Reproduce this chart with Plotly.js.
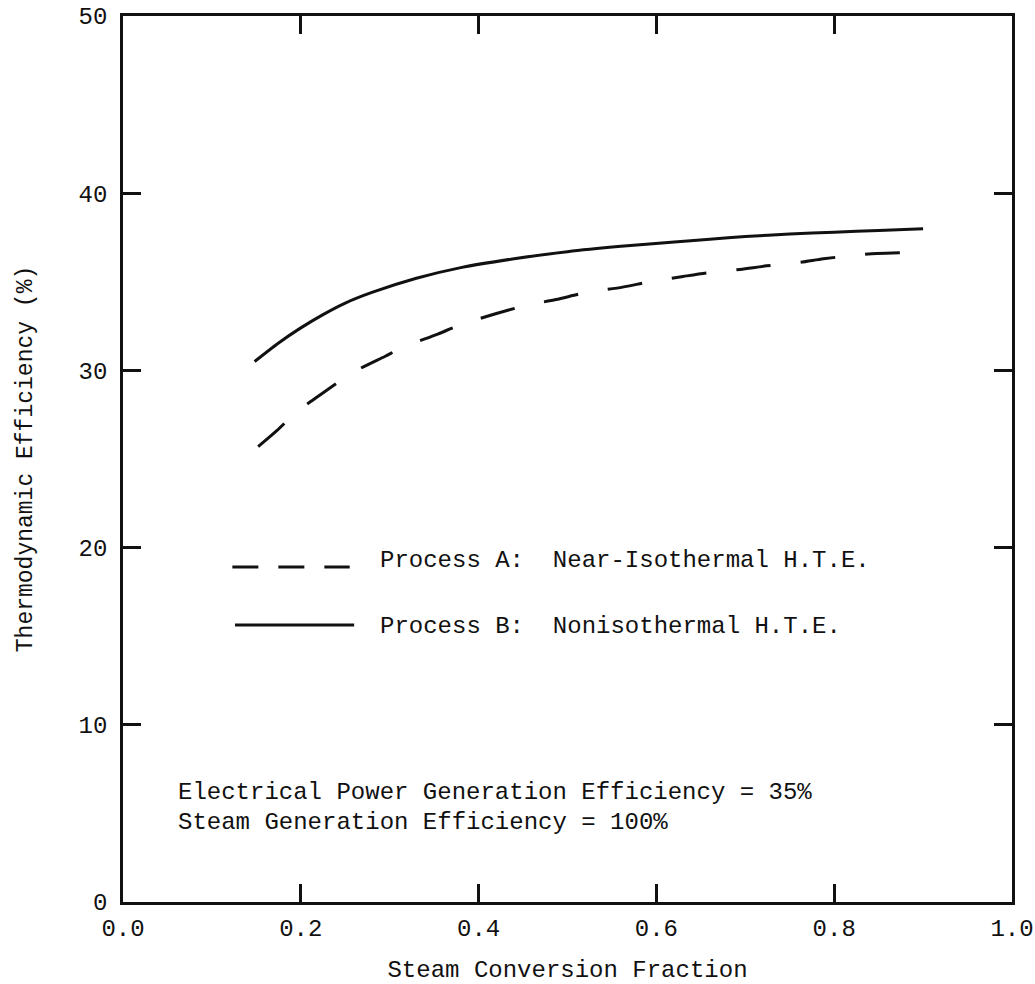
<!DOCTYPE html>
<html>
<head>
<meta charset="utf-8">
<script src="https://cdn.plot.ly/plotly-3.0.1.min.js"></script>
<style>
  html, body { margin: 0; padding: 0; background: #fff; }
  #chart { width: 1035px; height: 984px; }
</style>
</head>
<body>
<div id="chart"></div>
<script>
// Steam conversion fraction vs. thermodynamic efficiency (%)
const processA_x = [0.152, 0.173, 0.196, 0.21, 0.241, 0.259, 0.295, 0.315, 0.354, 0.381,
                    0.448, 0.487, 0.522, 0.562, 0.592, 0.63, 0.657, 0.694, 0.724, 0.762,
                    0.788, 0.824, 0.848, 0.882];
const processA_y = [25.7, 26.6, 27.7, 28.2, 29.3, 29.9, 30.8, 31.3, 32.05, 32.6,
                    33.6, 34.0, 34.4, 34.7, 35.0, 35.3, 35.5, 35.7, 35.9, 36.1,
                    36.3, 36.5, 36.6, 36.65];

const processB_x = [0.148, 0.175, 0.2, 0.225, 0.25, 0.28, 0.33, 0.38, 0.44, 0.5, 0.56,
                    0.62, 0.66, 0.7, 0.75, 0.8, 0.85, 0.9];
const processB_y = [30.5, 31.55, 32.4, 33.15, 33.8, 34.4, 35.2, 35.8, 36.3, 36.7, 37.0,
                    37.25, 37.4, 37.55, 37.7, 37.8, 37.9, 38.0];

const xTicks = [0.0, 0.2, 0.4, 0.6, 0.8, 1.0];
const xTickText = ["0.0", "0.2", "0.4", "0.6", "0.8", "1.0"];
const yTicks = [0, 10, 20, 30, 40, 50];
const yTickText = ["0", "10", "20", "30", "40", "50"];

const legendLabels = ["Process A:\u00a0\u00a0Near-Isothermal H.T.E.",
                      "Process B:\u00a0\u00a0Nonisothermal H.T.E."];
const noteLines = ["Electrical Power Generation Efficiency = 35%",
                   "Steam Generation Efficiency = 100%"];

const FONT = "Liberation Mono, Courier New, monospace";
const INK = "#111";

const traces = [
  {
    x: processA_x, y: processA_y, type: "scatter", mode: "lines",
    line: { color: INK, width: 3, dash: "35px,30px", shape: "spline", smoothing: 0.8 },
    name: legendLabels[0], showlegend: false, hoverinfo: "skip"
  },
  {
    x: processB_x, y: processB_y, type: "scatter", mode: "lines",
    line: { color: INK, width: 3, shape: "spline", smoothing: 0.8 },
    name: legendLabels[1], showlegend: false, hoverinfo: "skip"
  }
];

const axisCommon = {
  showgrid: false, zeroline: false,
  showline: true, linecolor: INK, linewidth: 2.8, mirror: "ticks",
  ticks: "inside", ticklen: 18, tickwidth: 3, tickcolor: INK,
  tickfont: { family: FONT, size: 24, color: INK },
  fixedrange: true
};

const layout = {
  width: 1035, height: 984,
  margin: { l: 123, r: 23, t: 16, b: 82 },
  paper_bgcolor: "#fff", plot_bgcolor: "#fff",
  font: { family: FONT, size: 24, color: INK },
  showlegend: false,
  xaxis: Object.assign({}, axisCommon, {
    range: [0, 1], tickvals: xTicks, ticktext: xTickText,
    ticklabelstandoff: 2,
    title: { text: "Steam Conversion Fraction", font: { family: FONT, size: 24, color: INK }, standoff: 22 }
  }),
  yaxis: Object.assign({}, axisCommon, {
    range: [0, 50], tickvals: yTicks, ticktext: yTickText,
    ticklabelstandoff: 8,
    title: { text: "Thermodynamic Efficiency (%)", font: { family: FONT, size: 23, color: INK }, standoff: 40 }
  }),
  shapes: [
    // legend samples
    { type: "line", xref: "paper", yref: "paper", x0: 0.123, x1: 0.255, y0: 0.378, y1: 0.378,
      line: { color: INK, width: 3, dash: "26px,20px" } },
    { type: "line", xref: "paper", yref: "paper", x0: 0.126, x1: 0.260, y0: 0.3126, y1: 0.3126,
      line: { color: INK, width: 3 } }
  ],
  annotations: [
    { text: legendLabels[0], xref: "paper", yref: "paper", x: 0.287, y: 0.386,
      xanchor: "left", yanchor: "middle", showarrow: false, font: { family: FONT, size: 24, color: INK } },
    { text: legendLabels[1], xref: "paper", yref: "paper", x: 0.287, y: 0.311,
      xanchor: "left", yanchor: "middle", showarrow: false, font: { family: FONT, size: 24, color: INK } },
    { text: noteLines[0], xref: "paper", yref: "paper", x: 0.060, y: 0.124,
      xanchor: "left", yanchor: "middle", showarrow: false, font: { family: FONT, size: 24, color: INK } },
    { text: noteLines[1], xref: "paper", yref: "paper", x: 0.060, y: 0.090,
      xanchor: "left", yanchor: "middle", showarrow: false, font: { family: FONT, size: 24, color: INK } }
  ]
};

Plotly.newPlot("chart", traces, layout, { displayModeBar: false, staticPlot: true });
</script>
</body>
</html>
